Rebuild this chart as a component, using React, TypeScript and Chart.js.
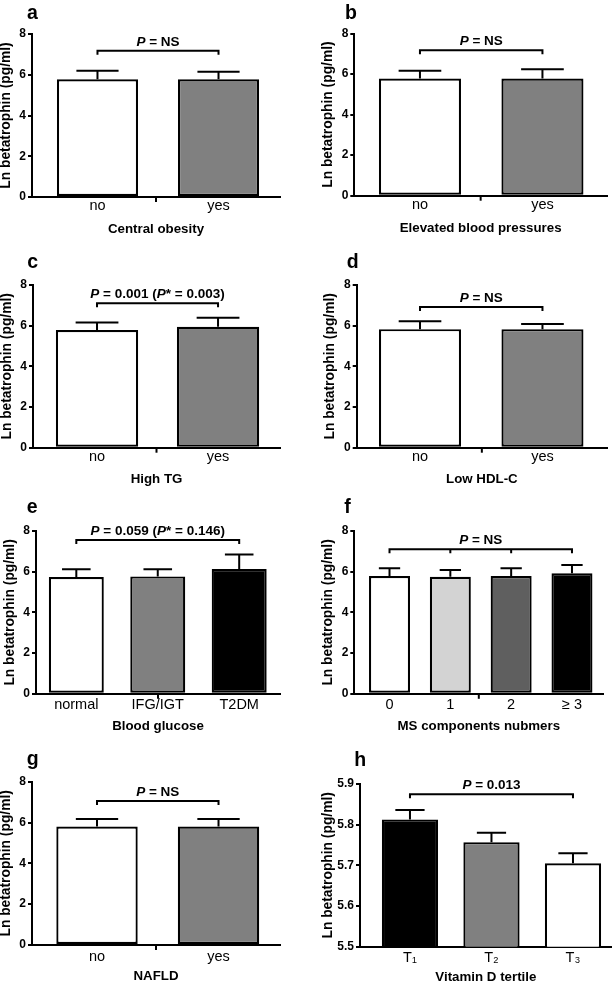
import React, { useEffect, useRef } from 'react';
import { Chart, registerables } from 'chart.js';

Chart.register(...registerables);

const FONT = "'Liberation Sans', Arial, Helvetica, sans-serif";
const Y_TITLE = 'Ln betatrophin (pg/ml)';
const X_TITLE_SIZE = 13.3;
const Y_TITLE_SIZE = 13.8;
const P_SIZE = 13.5;

// ---- data ----
const yTicks08 = [0, 2, 4, 6, 8];
const yTicksVitD = [5.5, 5.6, 5.7, 5.8, 5.9];

// a: Central obesity
const obesityLabels = ['no', 'yes'];
const obesityMeans = [5.78, 5.78];
const obesitySD = [0.42, 0.37];
const obesityBracket = 7.18;
const obesityP: [string, boolean][] = [['P', true], [' = NS', false]];

// b: Elevated blood pressures
const bpLabels = ['no', 'yes'];
const bpMeans = [5.78, 5.78];
const bpSD = [0.38, 0.46];
const bpBracket = 7.18;
const bpP: [string, boolean][] = [['P', true], [' = NS', false]];

// c: High TG
const tgLabels = ['no', 'yes'];
const tgMeans = [5.79, 5.95];
const tgSD = [0.36, 0.44];
const tgBracket = 7.1;
const tgP: [string, boolean][] = [['P', true], [' = 0.001 (', false], ['P', true], ['* = 0.003)', false]];

// d: Low HDL-C
const hdlLabels = ['no', 'yes'];
const hdlMeans = [5.83, 5.83];
const hdlSD = [0.39, 0.25];
const hdlBracket = 6.92;
const hdlP: [string, boolean][] = [['P', true], [' = NS', false]];

// e: Blood glucose
const glucoseLabels = ['normal', 'IFG/IGT', 'T2DM'];
const glucoseMeans = [5.74, 5.77, 6.13];
const glucoseSD = [0.38, 0.35, 0.72];
const glucoseBracket = 7.56;
const glucoseP: [string, boolean][] = [['P', true], [' = 0.059 (', false], ['P', true], ['* = 0.146)', false]];

// f: MS components numbers
const msLabels = ['0', '1', '2', '\u2265 3'];
const msMeans = [5.79, 5.75, 5.79, 5.92];
const msSD = [0.38, 0.33, 0.38, 0.41];
const msBracket = 7.1;
const msP: [string, boolean][] = [['P', true], [' = NS', false]];

// g: NAFLD
const nafldLabels = ['no', 'yes'];
const nafldMeans = [5.8, 5.8];
const nafldSD = [0.37, 0.37];
const nafldBracket = 7.06;
const nafldP: [string, boolean][] = [['P', true], [' = NS', false]];

// h: Vitamin D tertile
const vitdLabels = ['T\u2081', 'T\u2082', 'T\u2083'];
const vitdMeans = [5.813, 5.757, 5.705];
const vitdSEM = [0.023, 0.023, 0.025];
const vitdBracket = 5.875;
const vitdP: [string, boolean][] = [['P', true], [' = 0.013', false]];

// ---- styles ----
const WHITE = '#ffffff';
const GRAY = '#808080';
const LIGHT = '#d3d3d3';
const DARK = '#5f5f5f';
const BLACK = '#000000';

type Panel = {
  letter: string; letterX: number; letterY: number;
  labels: string[]; means: number[]; errs: number[]; colors: string[];
  title: string;
  yMin: number; yMax: number; yTicks: number[]; yDec: number;
  xMin: number; xMax: number; barPct: number;
  bracketY: number; bFrom: number; bTo: number; bTicks: number[];
  pText: [string, boolean][];
  area: { l: number; t: number; r: number; b: number };
  canvasLeft: number; canvasTop: number; canvasRight: number; canvasBottom: number;
  titleY: number; tickPad: number; centerTick: boolean;
};

const PANELS: Panel[] = [
  {
    letter: 'a', letterX: 27, letterY: 18.5,
    labels: obesityLabels, means: obesityMeans, errs: obesitySD, colors: [WHITE, GRAY],
    title: 'Central obesity', yMin: 0, yMax: 8, yTicks: yTicks08, yDec: 0,
    xMin: -0.541, xMax: 1.508, barPct: 0.67,
    bracketY: obesityBracket, bFrom: 0, bTo: 1, bTicks: [0, 1], pText: obesityP,
    area: { l: 32, t: 34, r: 280, b: 197 },
    canvasLeft: -2, canvasTop: 0, canvasRight: 300, canvasBottom: 242,
    titleY: 229, tickPad: 0, centerTick: true,
  },
  {
    letter: 'b', letterX: 345, letterY: 18.5,
    labels: bpLabels, means: bpMeans, errs: bpSD, colors: [WHITE, GRAY],
    title: 'Elevated blood pressures', yMin: 0, yMax: 8, yTicks: yTicks08, yDec: 0,
    xMin: -0.536, xMax: 1.527, barPct: 0.67,
    bracketY: bpBracket, bFrom: 0, bTo: 1, bTicks: [0, 1], pText: bpP,
    area: { l: 354.3, t: 33.5, r: 607, b: 195.7 },
    canvasLeft: 320, canvasTop: 0, canvasRight: 615, canvasBottom: 242,
    titleY: 228.5, tickPad: 1, centerTick: true,
  },
  {
    letter: 'c', letterX: 27.3, letterY: 268.3,
    labels: tgLabels, means: tgMeans, errs: tgSD, colors: [WHITE, GRAY],
    title: 'High TG', yMin: 0, yMax: 8, yTicks: yTicks08, yDec: 0,
    xMin: -0.529, xMax: 1.512, barPct: 0.68,
    bracketY: tgBracket, bFrom: 0, bTo: 1, bTicks: [0, 1], pText: tgP,
    area: { l: 33, t: 285, r: 280, b: 447.7 },
    canvasLeft: -1, canvasTop: 242, canvasRight: 300, canvasBottom: 490,
    titleY: 479.5, tickPad: 0.5, centerTick: true,
  },
  {
    letter: 'd', letterX: 346.7, letterY: 268.3,
    labels: hdlLabels, means: hdlMeans, errs: hdlSD, colors: [WHITE, GRAY],
    title: 'Low HDL-C', yMin: 0, yMax: 8, yTicks: yTicks08, yDec: 0,
    xMin: -0.517, xMax: 1.527, barPct: 0.67,
    bracketY: hdlBracket, bFrom: 0, bTo: 1, bTicks: [0, 1], pText: hdlP,
    area: { l: 356.7, t: 285, r: 607, b: 447.7 },
    canvasLeft: 322, canvasTop: 242, canvasRight: 615, canvasBottom: 490,
    titleY: 479.5, tickPad: 0.5, centerTick: true,
  },
  {
    letter: 'e', letterX: 26.7, letterY: 512.7,
    labels: glucoseLabels, means: glucoseMeans, errs: glucoseSD, colors: [WHITE, GRAY, BLACK],
    title: 'Blood glucose', yMin: 0, yMax: 8, yTicks: yTicks08, yDec: 0,
    xMin: -0.495, xMax: 2.501, barPct: 0.675,
    bracketY: glucoseBracket, bFrom: 0, bTo: 2, bTicks: [0, 2], pText: glucoseP,
    area: { l: 36, t: 531, r: 280, b: 693.8 },
    canvasLeft: 2, canvasTop: 490, canvasRight: 300, canvasBottom: 738,
    titleY: 726, tickPad: 2, centerTick: true,
  },
  {
    letter: 'f', letterX: 344.3, letterY: 513.3,
    labels: msLabels, means: msMeans, errs: msSD, colors: [WHITE, LIGHT, DARK, BLACK],
    title: 'MS components nubmers', yMin: 0, yMax: 8, yTicks: yTicks08, yDec: 0,
    xMin: -0.579, xMax: 3.515, barPct: 0.674,
    bracketY: msBracket, bFrom: 0, bTo: 3, bTicks: [0, 1, 2, 3], pText: msP,
    area: { l: 354.3, t: 531, r: 603.3, b: 693.8 },
    canvasLeft: 320, canvasTop: 490, canvasRight: 615, canvasBottom: 738,
    titleY: 726, tickPad: 2, centerTick: true,
  },
  {
    letter: 'g', letterX: 26.7, letterY: 765,
    labels: nafldLabels, means: nafldMeans, errs: nafldSD, colors: [WHITE, GRAY],
    title: 'NAFLD', yMin: 0, yMax: 8, yTicks: yTicks08, yDec: 0,
    xMin: -0.535, xMax: 1.506, barPct: 0.67,
    bracketY: nafldBracket, bFrom: 0, bTo: 1, bTicks: [0, 1], pText: nafldP,
    area: { l: 32, t: 781.7, r: 280, b: 945 },
    canvasLeft: -2, canvasTop: 738, canvasRight: 300, canvasBottom: 988,
    titleY: 976.7, tickPad: 3, centerTick: true,
  },
  {
    letter: 'h', letterX: 354.3, letterY: 766,
    labels: vitdLabels, means: vitdMeans, errs: vitdSEM, colors: [BLACK, GRAY, WHITE],
    title: 'Vitamin D tertile', yMin: 5.5, yMax: 5.9, yTicks: yTicksVitD, yDec: 1,
    xMin: -0.613, xMax: 2.475, barPct: 0.69,
    bracketY: vitdBracket, bFrom: 0, bTo: 2, bTicks: [0, 2], pText: vitdP,
    area: { l: 360, t: 784, r: 611.7, b: 946.7 },
    canvasLeft: 320, canvasTop: 738, canvasRight: 615, canvasBottom: 988,
    titleY: 977.2, tickPad: 3, centerTick: false,
  },
];

function PanelChart({ p }: { p: Panel }) {
  const ref = useRef<HTMLCanvasElement>(null);
  const width = p.canvasRight - p.canvasLeft;
  const height = p.canvasBottom - p.canvasTop;

  useEffect(() => {
    const titleOffset = (X_TITLE_SIZE * 1.2) / 2;
    const xH = p.titleY + titleOffset - p.area.b;
    const padBottom = p.canvasBottom - (p.titleY + titleOffset);
    const yW = p.area.l - p.canvasLeft;

    const annot = {
      id: 'annot' + p.letter,
      afterDatasetsDraw(chart: any) {
        const { ctx, chartArea } = chart;
        const xs = chart.scales.x;
        const ys = chart.scales.y;
        const meta = chart.getDatasetMeta(0);
        ctx.save();
        ctx.strokeStyle = '#000';
        ctx.fillStyle = '#000';
        ctx.lineWidth = 2;
        ctx.lineCap = 'butt';
        // error bars
        p.means.forEach((m, i) => {
          const bar: any = meta.data[i];
          const cx = xs.getPixelForValue(i);
          const y0 = ys.getPixelForValue(m);
          const y1 = ys.getPixelForValue(m + p.errs[i]);
          const half = (bar.width * 0.52) / 2;
          ctx.beginPath();
          ctx.moveTo(cx, y0);
          ctx.lineTo(cx, y1);
          ctx.moveTo(cx - half, y1);
          ctx.lineTo(cx + half, y1);
          ctx.stroke();
        });
        // bracket
        const by = ys.getPixelForValue(p.bracketY);
        const bx0 = xs.getPixelForValue(p.bFrom);
        const bx1 = xs.getPixelForValue(p.bTo);
        ctx.beginPath();
        ctx.moveTo(bx0 - 1, by);
        ctx.lineTo(bx1 + 1, by);
        p.bTicks.forEach((t) => {
          const tx = xs.getPixelForValue(t);
          ctx.moveTo(tx, by);
          ctx.lineTo(tx, by + 4);
        });
        ctx.stroke();
        // p text
        const fonts = p.pText.map(([, it]) => `${it ? 'italic ' : ''}bold ${P_SIZE}px ${FONT}`);
        const widths = p.pText.map(([t], i) => {
          ctx.font = fonts[i];
          return ctx.measureText(t).width;
        });
        const total = widths.reduce((a, b) => a + b, 0);
        let sx = (bx0 + bx1) / 2 - total / 2;
        ctx.textBaseline = 'alphabetic';
        ctx.textAlign = 'left';
        p.pText.forEach(([t], i) => {
          ctx.font = fonts[i];
          ctx.fillText(t, sx, by - 5);
          sx += widths[i];
        });
        // center tick on x axis
        if (p.centerTick) {
          const mx = (chartArea.left + chartArea.right) / 2;
          ctx.beginPath();
          ctx.moveTo(mx, chartArea.bottom);
          ctx.lineTo(mx, chartArea.bottom + 5);
          ctx.stroke();
        }
        // panel letter
        ctx.font = `bold 19.5px ${FONT}`;
        ctx.fillText(p.letter, p.letterX - p.canvasLeft, p.letterY - p.canvasTop);
        ctx.restore();
      },
    };

    const chart = new Chart(ref.current as HTMLCanvasElement, {
      type: 'bar',
      data: {
        datasets: [
          {
            data: p.means.map((m, i) => ({ x: i, y: m })),
            backgroundColor: p.colors,
            borderColor: '#000',
            borderWidth: 2.2,
            borderSkipped: false,
            barPercentage: p.barPct,
            categoryPercentage: 1,
          } as any,
        ],
      },
      options: {
        animation: false,
        responsive: false,
        devicePixelRatio: 1,
        events: [],
        layout: {
          padding: {
            left: 0,
            top: p.area.t - p.canvasTop,
            right: p.canvasRight - p.area.r,
            bottom: padBottom,
          },
        },
        plugins: {
          legend: { display: false },
          tooltip: { enabled: false },
          title: { display: false },
        },
        scales: {
          x: {
            type: 'linear',
            min: p.xMin,
            max: p.xMax,
            offset: false,
            grid: { display: false, drawTicks: false, tickLength: 0, offset: false },
            border: { display: true, color: '#000', width: 2 },
            afterBuildTicks: (s: any) => {
              s.ticks = p.labels.map((_, i) => ({ value: i }));
            },
            afterFit: (s: any) => {
              s.height = xH;
            },
            ticks: {
              autoSkip: false,
              maxRotation: 0,
              minRotation: 0,
              padding: p.tickPad,
              color: '#000',
              font: { family: FONT, size: 14.5 },
              callback: (v: any) => p.labels[Math.round(Number(v))] ?? '',
            },
            title: {
              display: true,
              text: p.title,
              color: '#000',
              font: { family: FONT, size: X_TITLE_SIZE, weight: 'bold' },
              padding: { top: 0, bottom: 0 },
            },
          },
          y: {
            type: 'linear',
            min: p.yMin,
            max: p.yMax,
            grid: {
              display: true,
              drawOnChartArea: false,
              drawTicks: true,
              tickLength: 4,
              color: '#000',
              lineWidth: 2,
            },
            border: { display: true, color: '#000', width: 2 },
            afterBuildTicks: (s: any) => {
              s.ticks = p.yTicks.map((v) => ({ value: v }));
            },
            afterFit: (s: any) => {
              s.width = yW;
            },
            ticks: {
              padding: 2,
              color: '#000',
              font: { family: FONT, size: 12, weight: 'bold' },
              callback: (v: any) => Number(v).toFixed(p.yDec),
            },
            title: {
              display: true,
              text: Y_TITLE,
              color: '#000',
              font: { family: FONT, size: Y_TITLE_SIZE, weight: 'bold' },
              padding: { top: 0, bottom: 0 },
            },
          },
        },
      } as any,
      plugins: [annot as any],
    });
    return () => chart.destroy();
  }, []);

  return (
    <canvas
      ref={ref}
      width={width}
      height={height}
      style={{ position: 'absolute', left: p.canvasLeft, top: p.canvasTop, width, height }}
    />
  );
}

export default function App() {
  return (
    <div
      style={{
        position: 'absolute',
        left: 0,
        top: 0,
        width: 615,
        height: 988,
        background: '#fff',
        overflow: 'hidden',
      }}
    >
      {PANELS.map((p) => (
        <PanelChart key={p.letter} p={p} />
      ))}
    </div>
  );
}
